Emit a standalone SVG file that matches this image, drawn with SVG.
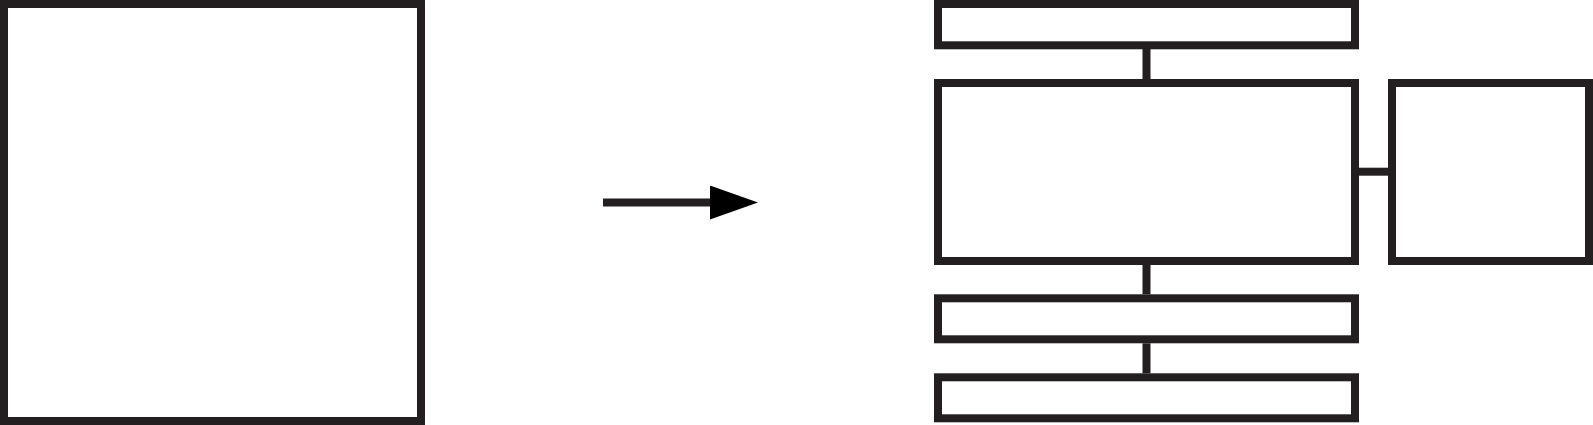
<svg xmlns="http://www.w3.org/2000/svg" width="1593" height="425" viewBox="0 0 1593 425">
  <style>
    .box { fill: #ffffff; stroke: #231f20; stroke-width: 8; }
    .conn { stroke: #231f20; stroke-width: 8; fill: none; }
  </style>
  <defs>
    <marker id="arrow" markerUnits="userSpaceOnUse" markerWidth="48" markerHeight="34" refX="0" refY="17" orient="auto">
      <path d="M0,0 L48,17 L0,34 Z" fill="#000000"/>
    </marker>
  </defs>
  <rect width="1593" height="425" fill="#ffffff"/>
  <g id="source">
    <rect class="box" x="4" y="4" width="417" height="417"/>
  </g>
  <g id="box-top">
    <rect class="box" x="938" y="4" width="417" height="41.3"/>
  </g>
  <g id="box-main">
    <rect class="box" x="938" y="83" width="417" height="178"/>
  </g>
  <g id="box-side">
    <rect class="box" x="1392" y="83" width="197" height="178"/>
  </g>
  <g id="box-lower1">
    <rect class="box" x="938" y="298.3" width="417" height="41"/>
  </g>
  <g id="box-lower2">
    <rect class="box" x="938" y="377.3" width="417" height="41"/>
  </g>
  <g id="connectors">
    <line class="conn" x1="603" y1="202.5" x2="710" y2="202.5" stroke-width="7" marker-end="url(#arrow)"/>
    <line class="conn" x1="1146.5" y1="49" x2="1146.5" y2="79"/>
    <line class="conn" x1="1146.5" y1="265" x2="1146.5" y2="294.3"/>
    <line class="conn" x1="1146.5" y1="343.3" x2="1146.5" y2="373.3"/>
    <line class="conn" x1="1359" y1="171.7" x2="1388" y2="171.7"/>
  </g>
</svg>
